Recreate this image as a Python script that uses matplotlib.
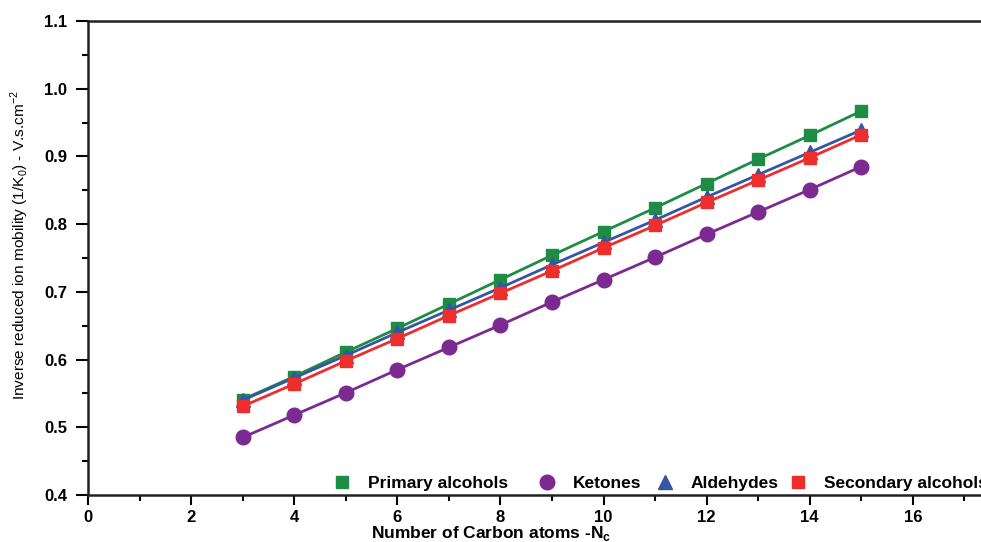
import matplotlib
matplotlib.use("Agg")
import matplotlib.pyplot as plt
from matplotlib.ticker import MultipleLocator
from matplotlib.legend import Legend

plt.rcParams['font.family'] = ['Liberation Sans', 'DejaVu Sans']
plt.rcParams['font.weight'] = 'bold'

carbons = [3, 4, 5, 6, 7, 8, 9, 10, 11, 12, 13, 14, 15]
primary = [0.541, 0.575, 0.611, 0.646, 0.682, 0.718, 0.754, 0.789, 0.824, 0.860, 0.896, 0.931, 0.967]
ketones = [0.485, 0.518, 0.551, 0.585, 0.618, 0.651, 0.685, 0.718, 0.751, 0.785, 0.818, 0.851, 0.885]
aldehydes = [0.540, 0.573, 0.606, 0.640, 0.673, 0.706, 0.740, 0.773, 0.806, 0.840, 0.873, 0.906, 0.939]
secondary = [0.531, 0.564, 0.598, 0.631, 0.665, 0.698, 0.731, 0.765, 0.798, 0.832, 0.865, 0.898, 0.932]

fig = plt.figure(figsize=(9.81, 5.42), dpi=100)
ax = fig.add_axes([88/981, 1 - 495/542, 1 - 88/981, (495 - 21)/542])

series = [
    (primary, 's', '#1e8c45', 9, 'Primary alcohols'),
    (ketones, 'o', '#7b2a92', 10.5, 'Ketones'),
    (aldehydes, '^', '#3555a5', 10.5, 'Aldehydes'),
    (secondary, 's', '#ee2d2d', 9, 'Secondary alcohols'),
]
handles = []
for vals, m, c, ms, lab in series:
    h, = ax.plot(carbons, vals, '-', marker=m, color=c, lw=2, ms=ms, label=lab)
    handles.append(h)

ax.set_xlim(0, (981 - 88) / 51.55)
ax.set_ylim(0.4, 1.1)
ax.xaxis.set_minor_locator(MultipleLocator(1))
ax.yaxis.set_minor_locator(MultipleLocator(0.05))
ax.set_xticks([0, 2, 4, 6, 8, 10, 12, 14, 16])
ax.set_yticks([0.4, 0.5, 0.6, 0.7, 0.8, 0.9, 1.0, 1.1])
ax.set_yticklabels(['0.4', '0.5', '0.6', '0.7', '0.8', '0.9', '1.0', '1.1'])

for s in ['left', 'bottom', 'top']:
    ax.spines[s].set_linewidth(1.8)
    ax.spines[s].set_color('#222222')
ax.spines['right'].set_visible(False)

ax.tick_params(which='major', direction='out', length=7, width=1.5, labelsize=12, pad=4)
ax.tick_params(which='minor', direction='out', length=4, width=1.5)
ax.tick_params(axis='y', which='major', length=9, pad=6)
for lab in ax.get_xticklabels() + ax.get_yticklabels():
    lab.set_fontweight('bold')

ax.set_xlabel('Number of Carbon atoms -N$_\\mathregular{c}$', fontsize=12.5, fontweight='bold')
ax.xaxis.set_label_coords(0.451, -0.062)
ax.set_ylabel('Inverse reduced ion mobility (1/K$_\\mathregular{0}$) - V.s.cm$^\\mathregular{-2}$',
              fontsize=11.1, fontweight='normal')
ax.yaxis.set_label_coords(-0.064, 0.527)

# legend entries placed individually (reference spacing is uneven)
px_per_ax = 1.0 / 893
positions = [333, 538, 656, 789]
for h, xp in zip(handles, positions):
    leg = Legend(ax, [h], [h.get_label()], loc='center left',
                 bbox_to_anchor=((xp - 88) * px_per_ax, 0.025),
                 frameon=False, handlelength=1.0, handletextpad=1.0,
                 borderpad=0, borderaxespad=0,
                 prop={'weight': 'bold', 'size': 12.5})
    for lh in leg.legend_handles:
        lh.set_linestyle('')
    ax.add_artist(leg)

fig.savefig('out.png', dpi=100)
